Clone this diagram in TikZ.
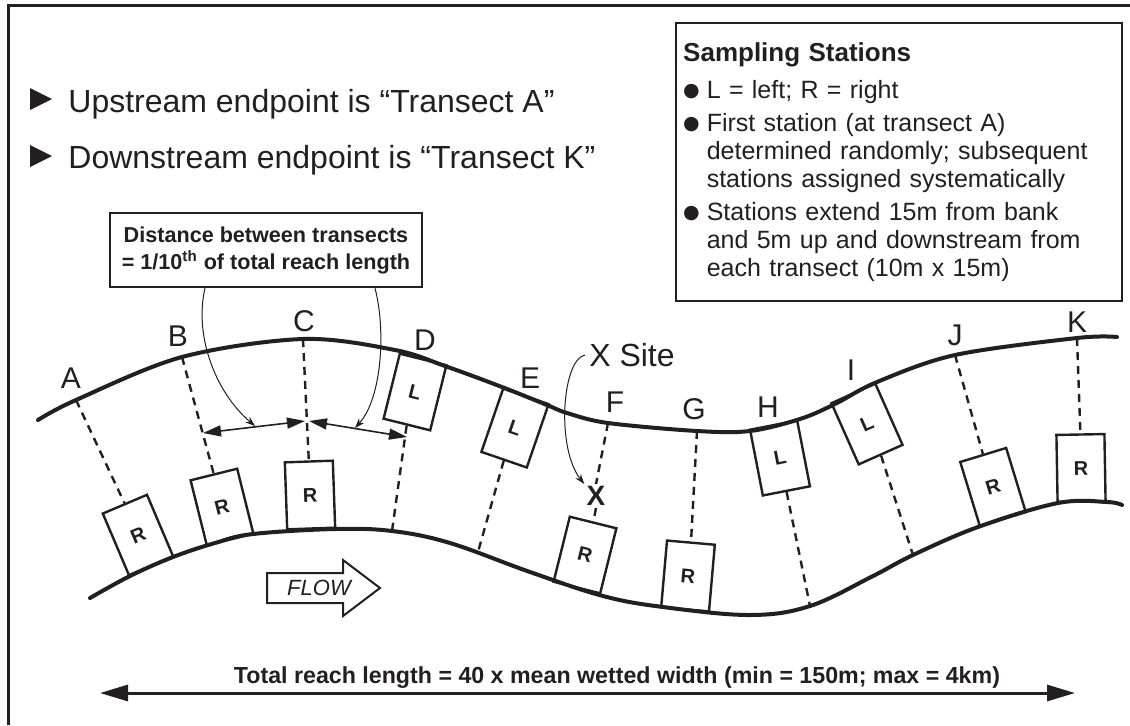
\documentclass[tikz,border=0pt]{standalone}
\usepackage{fontspec}
\setmainfont{Liberation Sans}
\newfontfamily\symfont{DejaVu Sans}
\usetikzlibrary{arrows.meta, positioning}
\definecolor{ink}{HTML}{231F20}

\newcommand{\bul}{\raisebox{0.9pt}{\symfont\fontsize{9.5}{9.5}\selectfont ●}\hspace{3.5pt}}
\newcommand{\ind}{\phantom{\bul}}

\begin{document}
\begin{tikzpicture}[
    x=0.5pt, y=-0.5pt, ink,
    bank/.style={line width=2pt, line cap=round},
    station/.style={draw, line width=1.2pt, minimum width=24pt, minimum height=33.5pt, inner sep=0pt, font=\fontsize{10}{10}\selectfont\bfseries},
    transect/.style={dash pattern=on 4pt off 3pt, line width=1.2pt},
    tlabel/.style={inner sep=0pt, font=\fontsize{15}{15}\selectfont},
    infobox/.style={draw, line width=1.2pt, inner sep=0pt},
    span/.style={{Triangle[length=9pt, width=5.5pt]}-{Triangle[length=9pt, width=5.5pt]}, line width=0.8pt},
    callout/.style={-{Stealth[length=5pt, width=3.5pt]}, line width=0.5pt},
    reach/.style={{Triangle[length=14pt, width=8pt]}-{Triangle[length=14pt, width=8pt]}, line width=1.5pt}
]
    \useasboundingbox (0,0) rectangle (1130,725);

    % Frame (top and left edges)
    \draw[line width=1.5pt] (8,725) -- (8,5) -- (1130,5);

    % Endpoint notes
    \fill (30,88) -- (52,99) -- (30,110) -- cycle;
    \node[anchor=base west, inner sep=0pt, font=\fontsize{16}{16}\selectfont] (upstream) at (68,112) {Upstream endpoint is “Transect A”};
    \fill (30,145) -- (52,156) -- (30,167) -- cycle;
    \node[anchor=base west, inner sep=0pt, font=\fontsize{16}{16}\selectfont] (downstream) at (68,168) {Downstream endpoint is “Transect K”};

    % Spacing note
    \node[infobox, minimum width=156pt, minimum height=37pt, align=center, font=\fontsize{10.8}{13.5}\selectfont\bfseries] (spacing) at (266,250) {Distance between transects\\= 1/10\textsuperscript{th} of total reach length};

    % Sampling stations note
    \node[infobox, anchor=north west, inner xsep=3.5pt, text width=216pt, minimum height=139pt, align=left, font=\fontsize{12.5}{14}\selectfont] (stations) at (675,22) {%
        {\fontsize{13}{14}\selectfont\bfseries Sampling Stations}\\[4.5pt]
        \bul L = left; R = right\\[2.5pt]
        \bul First station (at transect A)\\
        \ind determined randomly; subsequent\\
        \ind stations assigned systematically\\[2.5pt]
        \bul Stations extend 15m from bank\\
        \ind and 5m up and downstream from\\
        \ind each transect (10m x 15m)};

    % River banks
    \draw[bank] plot[smooth, tension=0.55] coordinates {(38,420) (76,400) (182,357) (303,339) (395,350) (445,366) (502,387) (547,405) (567,413) (608,423) (697,431) (750,431) (800,419) (835,404) (877,382) (955,355) (1077,338) (1117,337)};
    \draw[bank] plot[smooth, tension=0.6] coordinates {(90,598) (130,576) (173,557) (215,543) (253,534) (335,529) (392,531) (450,543) (530,572) (603,596) (663,607) (750,615) (810,606) (873,576) (913,555) (978,527) (1058,503) (1107,502) (1122,505)};

    % Transect ends on the banks
    \coordinate (tA) at (76,400);
    \coordinate (tB) at (182,357);
    \coordinate (tC) at (303,339);
    \coordinate (tF) at (608,423);
    \coordinate (tG) at (697,431);
    \coordinate (tJ) at (955,355);
    \coordinate (tK) at (1077,338);
    \coordinate (bD) at (392,531);
    \coordinate (bE) at (478,552);
    \coordinate (bH) at (810,606);
    \coordinate (bI) at (913,555);

    % Transect labels
    \node[tlabel] (labA) at (71,378) {A};
    \node[tlabel] (labB) at (178,336) {B};
    \node[tlabel] (labC) at (304,321) {C};
    \node[tlabel] (labD) at (425,340) {D};
    \node[tlabel] (labE) at (530,378) {E};
    \node[tlabel] (labF) at (615,402) {F};
    \node[tlabel] (labG) at (694,409) {G};
    \node[tlabel] (labH) at (768,407) {H};
    \node[tlabel] (labI) at (851,370) {I};
    \node[tlabel] (labJ) at (955,335) {J};
    \node[tlabel] (labK) at (1077,322) {K};

    % Stations
    \node[station, rotate=23] (rA) at (138,535) {R};
    \node[station, rotate=14] (rB) at (222,507) {R};
    \node[station, rotate=2] (rC) at (310,495) {R};
    \node[station, rotate=-14] (lD) at (415,392) {L};
    \node[station, rotate=-19] (lE) at (515,428) {L};
    \node[station, rotate=-14] (rF) at (585,555) {R};
    \node[station, rotate=-5] (rG) at (688,576) {R};
    \node[station, rotate=11] (lH) at (780,458) {L};
    \node[station, rotate=24] (lI) at (867,424) {L};
    \node[station, rotate=17] (rJ) at (993,487) {R};
    \node[station, rotate=1] (rK) at (1081,468) {R};

    % X site
    \node[inner sep=1pt, font=\fontsize{14}{14}\selectfont\bfseries] (xmark) at (596,496) {X};
    \node[inner sep=2pt, font=\fontsize{16}{16}\selectfont] (xsite) at (632,355) {X Site};

    % Transects
    \draw[transect] (tA) -- (rA.north);
    \draw[transect] (tB) -- (rB.north);
    \draw[transect] (tC) -- (rC.north);
    \draw[transect] (lD.south) -- (bD);
    \draw[transect] (lE.south) -- (bE);
    \draw[transect] (tF) -- (xmark.north);
    \draw[transect] (xmark.south) -- (rF.north);
    \draw[transect] (tG) -- (rG.north);
    \draw[transect] (lH.south) -- (bH);
    \draw[transect] (lI.south) -- (bI);
    \draw[transect] (tJ) -- (rJ.north);
    \draw[transect] (tK) -- (rK.north);

    % Distance between transects
    \coordinate (dB) at (203,433);
    \coordinate (dC1) at (305,421);
    \coordinate (dC2) at (309,421);
    \coordinate (dD) at (407,437);
    \coordinate (pL) at (255,426);
    \coordinate (pR) at (355,428);
    \draw[span] (dB) -- (dC1);
    \draw[span] (dC2) -- (dD);
    \draw[callout] ([xshift=-30.5pt]spacing.south) .. controls (194,335) and (215,392) .. (pL);
    \draw[callout] ([xshift=54.5pt]spacing.south) .. controls (386,330) and (382,398) .. (pR);
    \draw[callout] (xsite.west) .. controls (562,360) and (556,448) .. (xmark.north west);

    % Flow direction
    \draw[line width=1pt] (267,573) -- (343,573) -- (343,560) -- (380,588) -- (343,616) -- (343,603) -- (267,603) -- cycle;
    \node[inner sep=0pt, font=\fontsize{11}{11}\selectfont\itshape] (flow) at (319,588) {FLOW};

    % Total reach length
    \coordinate (reachL) at (100,693);
    \coordinate (reachR) at (1075,693);
    \draw[reach] (reachL) -- (reachR);
    \node[anchor=base, inner sep=0pt, font=\fontsize{11.6}{12}\selectfont\bfseries] (reachtext) at (617,683) {Total reach length = 40 x mean wetted width (min = 150m; max = 4km)};
\end{tikzpicture}
\end{document}
